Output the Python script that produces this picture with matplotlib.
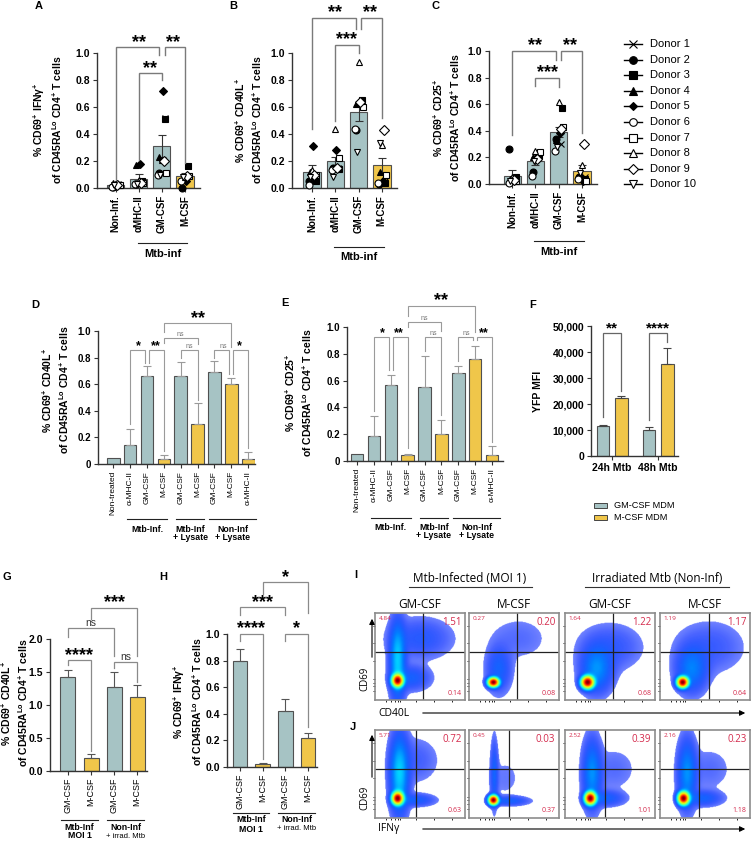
import numpy as np
import matplotlib
matplotlib.use('Agg')
import matplotlib.pyplot as plt
import matplotlib.transforms as mtransforms
from matplotlib.lines import Line2D
from matplotlib.patches import FancyArrowPatch, Rectangle

W, H = 752, 842

plt.rcParams['font.family'] = ['Liberation Sans', 'DejaVu Sans']
plt.rcParams['mathtext.fontset'] = 'custom'
plt.rcParams['mathtext.rm'] = 'Liberation Sans:bold'
plt.rcParams['mathtext.bf'] = 'Liberation Sans:bold'
plt.rcParams['mathtext.it'] = 'Liberation Sans:bold:italic'
plt.rcParams['mathtext.default'] = 'bf'

GM = '#a6c3c4'
MC = '#f0c64a'
RED = '#d42a4c'

# ---------------- data ----------------
abc_labels = ['Non-Inf.', 'αMHC-II', 'GM-CSF', 'M-CSF']
donors = ['Donor %d' % i for i in range(1, 11)]

# panel A: CD69+ IFNg+ (per group, donors 1..10)
A_means = [0.02, 0.07, 0.31, 0.09]
A_sem = [0.01, 0.035, 0.08, 0.02]
A_pts = [
    [0.03, 0.01, 0.02, 0.04, 0.03, 0.01, 0.02, 0.03, 0.02, 0.02],
    [0.05, 0.03, 0.05, 0.17, 0.18, 0.03, 0.04, 0.06, 0.04, 0.03],
    [0.52, 0.11, 0.51, 0.23, 0.72, 0.10, 0.11, 0.21, 0.20, 0.10],
    [0.16, 0.00, 0.16, 0.08, 0.05, 0.05, 0.09, 0.08, 0.09, 0.08],
]
# panel B: CD69+ CD40L+
B_means = [0.12, 0.20, 0.56, 0.17]
B_sem = [0.05, 0.03, 0.06, 0.05]
B_pts = [
    [0.10, 0.05, 0.05, 0.12, 0.31, 0.02, 0.10, 0.13, 0.10, 0.08],
    [0.15, 0.15, 0.14, 0.15, 0.28, 0.13, 0.22, 0.44, 0.15, 0.08],
    [0.64, 0.43, 0.65, 0.62, 0.64, 0.44, 0.60, 0.93, 0.64, 0.27],
    [0.05, 0.03, 0.04, 0.12, 0.05, 0.04, 0.10, 0.32, 0.43, 0.33],
]
# panel C: CD69+ CD25+
C_means = [0.06, 0.17, 0.39, 0.10]
C_sem = [0.045, 0.03, 0.04, 0.045]
C_pts = [
    [0.03, 0.26, 0.05, 0.04, 0.03, 0.01, 0.02, 0.05, 0.03, 0.02],
    [0.20, 0.09, 0.21, 0.20, 0.20, 0.06, 0.24, 0.25, 0.19, 0.17],
    [0.30, 0.34, 0.57, 0.33, 0.38, 0.25, 0.43, 0.62, 0.41, 0.28],
    [0.05, 0.05, 0.04, 0.06, 0.02, 0.04, 0.02, 0.14, 0.30, 0.08],
]

de_labels = ['Non-treated', 'α-MHC-II', 'GM-CSF', 'M-CSF', 'GM-CSF', 'M-CSF',
             'GM-CSF', 'M-CSF', 'α-MHC-II']
de_kind = ['gm', 'gm', 'gm', 'm', 'gm', 'm', 'gm', 'm', 'm']
D_means = [0.045, 0.14, 0.66, 0.035, 0.665, 0.30, 0.69, 0.60, 0.04]
D_err = [0.0, 0.12, 0.075, 0.03, 0.105, 0.155, 0.085, 0.05, 0.05]
E_means = [0.05, 0.19, 0.57, 0.045, 0.555, 0.20, 0.66, 0.76, 0.045]
E_err = [0.0, 0.145, 0.07, 0.01, 0.225, 0.105, 0.05, 0.10, 0.065]

F_groups = ['24h Mtb', '48h Mtb']
F_gm = [11500, 10000]
F_gm_err = [500, 1000]
F_m = [22500, 35300]
F_m_err = [500, 6200]

gh_labels = ['GM-CSF', 'M-CSF', 'GM-CSF', 'M-CSF']
gh_kind = ['gm', 'm', 'gm', 'm']
G_means = [1.43, 0.19, 1.28, 1.12]
G_err = [0.10, 0.07, 0.22, 0.18]
H_means = [0.80, 0.02, 0.42, 0.215]
H_err = [0.09, 0.01, 0.09, 0.04]

flow_cols = ['GM-CSF', 'M-CSF', 'GM-CSF', 'M-CSF']
I_tl = [4.84, 0.27, 1.64, 1.19]
I_tr = [1.51, 0.20, 1.22, 1.17]
I_br = [0.14, 0.08, 0.68, 0.64]
J_tl = [5.71, 0.45, 2.52, 2.16]
J_tr = [0.72, 0.03, 0.39, 0.23]
J_br = [0.63, 0.37, 1.01, 1.18]

# ---------------- styles ----------------
d_marker = ['x', 'o', 's', '^', 'D', 'o', 's', '^', 'D', 'v']
d_filled = [True] * 5 + [False] * 5
d_size = [5, 5, 5, 5, 4, 5, 5, 5, 5, 5]
d_dx = [0.12, -0.12, 0.15, -0.1, 0.05, -0.15, 0.18, 0.0, 0.08, -0.08]

fig = plt.figure(figsize=(W / 100, H / 100), dpi=100)


def fx(x):
    return x / W


def fy(y):
    return 1 - y / H


def make_ax(left, right, ytop, ybot, xlim, ylim):
    ax = fig.add_axes([fx(left), fy(ybot), (right - left) / W, (ybot - ytop) / H])
    ax.set_xlim(*xlim)
    ax.set_ylim(*ylim)
    ax.spines['top'].set_visible(False)
    ax.spines['right'].set_visible(False)
    for s in ['left', 'bottom']:
        ax.spines[s].set_linewidth(1.0)
        ax.spines[s].set_color('#333333')
    ax.tick_params(direction='out', length=3, width=0.8, color='#333333', pad=2)
    ax.patch.set_alpha(0)
    return ax


def bars(ax, means, errs, colors, width, both=False, ecolor='#333333'):
    x = np.arange(len(means))
    ax.bar(x, means, width, color=colors, edgecolor='#505050', linewidth=0.8, zorder=2)
    for xi, m, e in zip(x, means, errs):
        if e <= 0:
            continue
        lo = e if both else 0
        ax.errorbar(xi, m, yerr=[[lo], [e]], fmt='none', ecolor=ecolor,
                    elinewidth=0.8, capsize=3, capthick=0.8, zorder=3)


def points(ax, pts):
    for g, vals in enumerate(pts):
        for d, v in enumerate(vals):
            fc = 'black' if d_filled[d] else 'white'
            ax.plot(g + d_dx[d], v, marker=d_marker[d], ms=d_size[d], mfc=fc,
                    mec='black', mew=0.8, ls='none', zorder=4, clip_on=False)


def bracket(ax, spec, color, lw, fs, ns_fs=5.5, ns_color='#777777'):
    i, j, y, yi, yj, txt, di, dj = spec
    ax.plot([i + di, i + di, j + dj, j + dj], [yi, y, y, yj], color=color, lw=lw,
            clip_on=False, zorder=5, solid_joinstyle='miter')
    if txt == 'ns':
        ax.annotate(txt, ((i + j) / 2, y), xytext=(0, 1.5), textcoords='offset points',
                    ha='center', va='baseline', fontsize=ns_fs, color=ns_color,
                    annotation_clip=False)
    else:
        ax.annotate(txt, ((i + j) / 2, y), xytext=(0, 0.3), textcoords='offset points',
                    ha='center', va='baseline', fontsize=fs, fontweight='bold',
                    color='black', annotation_clip=False)


def group(ax, x0, x1, ypx, lines, typx, fs, weights=None, sizes=None, dy=9):
    tr = mtransforms.blended_transform_factory(ax.transData, fig.transFigure)
    ax.plot([x0, x1], [fy(ypx)] * 2, transform=tr, color='#222222', lw=0.8, clip_on=False)
    for k, t in enumerate(lines):
        w = weights[k] if weights else 'bold'
        s = sizes[k] if sizes else fs
        ax.text((x0 + x1) / 2, fy(typx + k * dy), t, transform=tr, ha='center',
                va='center', fontsize=s, fontweight=w)


def ylab(xpx, ypx, text, fs=7.5):
    fig.text(fx(xpx), fy(ypx), text, rotation=90, ha='center', va='center',
             fontsize=fs, fontweight='bold', multialignment='center', linespacing=1.25)


def letter(xpx, ypx, t):
    fig.text(fx(xpx), fy(ypx), t, ha='center', va='center', fontsize=8, fontweight='bold')


lab_ifn = '% CD69$^{+}$ IFNγ$^{+}$\nof CD45RA$^{Lo}$ CD4$^{+}$ T cells'
lab_40 = '% CD69$^{+}$ CD40L$^{+}$\nof CD45RA$^{Lo}$ CD4$^{+}$ T cells'
lab_25 = '% CD69$^{+}$ CD25$^{+}$\nof CD45RA$^{Lo}$ CD4$^{+}$ T cells'

# ---------------- A, B, C ----------------
abc_specs = [
    (97, 200, 53, 188, (-0.8, 3.65), A_means, A_sem, A_pts, lab_ifn, 48, 120,
     [(0, 2, 1.044, 0.06, 0.985, '**', 0, -0.12), (2, 3, 1.044, 0.985, 0.185, '**', 0.12, 0),
      (1, 2, 0.85, 0.21, 0.8, '**', 0, 0)], 'A', 39, 6, 243, 254),
    (292, 397, 53, 188, (-0.86, 3.65), B_means, B_sem, B_pts, lab_40, 249, 120,
     [(0, 2, 1.26, 0.44, 1.18, '**', 0, -0.12), (2, 3, 1.26, 1.18, 0.52, '**', 0.12, 0),
      (1, 2, 1.06, 0.5, 1.0, '***', 0, 0)], 'B', 233, 6, 247, 257),
    (489, 597, 51, 184, (-1.0, 3.65), C_means, C_sem, C_pts, lab_25, 447, 118,
     [(0, 2, 1.0, 0.37, 0.93, '**', 0, -0.12), (2, 3, 1.0, 0.93, 0.38, '**', 0.12, 0),
      (1, 2, 0.8, 0.74, 0.73, '***', 0, 0)], 'C', 435, 6, 241, 252),
]
for (l, r, yt, yb, xl, means, sem, pts, lab, lx, ly, brs, let, ltx, lty, gy, gty) in abc_specs:
    ax = make_ax(l, r, yt, yb, xl, (0, 1.0))
    bars(ax, means, sem, [GM, GM, GM, MC], 0.75, both=True)
    points(ax, pts)
    ax.set_yticks(np.arange(0, 1.01, 0.2))
    ax.set_yticklabels(['%.1f' % v for v in np.arange(0, 1.01, 0.2)], fontsize=7.5,
                       fontweight='bold')
    ax.set_xticks(range(4))
    ax.set_xticklabels(abc_labels, rotation=90, fontsize=7, fontweight='bold')
    for b in brs:
        bracket(ax, b, '#7a7a7a', 1.0, 13)
    group(ax, 0.95, 3.1, gy, ['Mtb-inf'], gty, 8)
    ylab(lx, ly, lab)
    letter(ltx, lty, let)

# donor legend
for k, name in enumerate(donors):
    yk = fy(44 + k * 15.6)
    fig.add_artist(Line2D([fx(624), fx(642)], [yk, yk], color='black', lw=1.0))
    fc = 'black' if d_filled[k] else 'white'
    fig.add_artist(Line2D([fx(633)], [yk], marker=d_marker[k], ms=d_size[k] + 0.5, mfc=fc,
                          mec='black', mew=0.8, ls='none'))
    fig.text(fx(650), yk, name, ha='left', va='center', fontsize=8)

# ---------------- D, E ----------------
de_specs = [
    (98, 255, 331, 464, (-0.9, 8.4), D_means, D_err, lab_40, 56, 390,
     [(1, 2, 0.86, 0.3, 0.76, '*', 0, -0.12), (2, 3, 0.86, 0.76, 0.1, '**', 0.12, 0),
      (3, 5, 0.95, 0.91, 0.9, 'ns', 0, 0), (4, 5, 0.86, 0.8, 0.48, 'ns', 0, 0),
      (6, 7, 0.86, 0.8, 0.68, 'ns', 0, -0.12), (7, 8, 0.86, 0.68, 0.12, '*', 0.12, 0),
      (3, 7, 1.06, 0.99, 0.88, '**', 0, 0)], 'D', 35, 305, 519, 530),
    (347, 503, 327, 461, (-0.6, 8.65), E_means, E_err, lab_25, 299, 393,
     [(1, 2, 0.925, 0.37, 0.68, '*', 0, -0.12), (2, 3, 0.925, 0.68, 0.1, '**', 0.12, 0),
      (3, 5, 1.04, 1.0, 0.97, 'ns', 0, 0), (4, 5, 0.925, 0.82, 0.34, 'ns', 0, 0),
      (6, 7, 0.925, 0.75, 0.9, 'ns', 0, -0.12), (7, 8, 0.925, 0.9, 0.14, '**', 0.12, 0),
      (3, 7, 1.16, 1.08, 0.96, '**', 0, 0)], 'E', 285, 303, 518, 528),
]
for (l, r, yt, yb, xl, means, err, lab, lx, ly, brs, let, ltx, lty, gy, gty) in de_specs:
    ax = make_ax(l, r, yt, yb, xl, (0, 1.0))
    bars(ax, means, err, [GM if k == 'gm' else MC for k in de_kind], 0.75,
         ecolor='#9a9a9a')
    ax.set_yticks(np.arange(0, 1.01, 0.2))
    ax.set_yticklabels(['0', '0.2', '0.4', '0.6', '0.8', '1.0'], fontsize=7,
                       fontweight='bold')
    ax.set_xticks(range(9))
    ax.set_xticklabels(de_labels, rotation=90, fontsize=6)
    for b in brs:
        fs = 13 if b[0] == 3 and b[1] == 7 else 9
        bracket(ax, b, '#9a9a9a', 0.8, fs, ns_fs=5)
    group(ax, 0.8, 3.2, gy, ['Mtb-Inf.'], gty, 6.3)
    group(ax, 3.7, 5.4, gy, ['Mtb-Inf', '+ Lysate'], gty - 1, 6.3, dy=9)
    group(ax, 5.7, 8.45, gy, ['Non-Inf', '+ Lysate'], gty - 1, 6.3, dy=9)
    ylab(lx, ly, lab)
    letter(ltx, lty, let)

# ---------------- F ----------------
ax = make_ax(591, 678, 326, 456, (-0.46, 1.43), (0, 50000))
xf = np.arange(len(F_groups))
ax.bar(xf - 0.2, F_gm, 0.27, color=GM, edgecolor='#505050', lw=0.8, zorder=2)
ax.bar(xf + 0.2, F_m, 0.27, color=MC, edgecolor='#505050', lw=0.8, zorder=2)
ax.errorbar(xf - 0.2, F_gm, yerr=[np.zeros(2), F_gm_err], fmt='none', ecolor='#444444',
            elinewidth=0.8, capsize=3, capthick=0.8, zorder=3)
ax.errorbar(xf + 0.2, F_m, yerr=[np.zeros(2), F_m_err], fmt='none', ecolor='#444444',
            elinewidth=0.8, capsize=3, capthick=0.8, zorder=3)
ax.set_yticks(np.arange(0, 50001, 10000))
ax.set_yticklabels(['0', '10,000', '20,000', '30,000', '40,000', '50,000'], fontsize=7.5,
                   fontweight='bold')
ax.set_xticks(xf)
ax.set_xticklabels(F_groups, fontsize=7.5, fontweight='bold')
for b in [(-0.2, 0.2, 47300, 15000, 25000, '**', 0, 0),
          (0.8, 1.2, 47300, 14000, 44000, '****', 0, 0)]:
    bracket(ax, b, '#666666', 0.9, 11)
ylab(538, 391, 'YFP MFI', fs=7.5)
letter(533, 305, 'F')
for k, (c, t) in enumerate([(GM, 'GM-CSF MDM'), (MC, 'M-CSF MDM')]):
    yk = 506 + k * 11
    fig.add_artist(Rectangle((fx(594), fy(yk + 2.5)), 13 / W, 5 / H, facecolor=c,
                             edgecolor='#444444', lw=0.7, transform=fig.transFigure))
    fig.text(fx(614), fy(yk), t, ha='left', va='center', fontsize=6.6)

# ---------------- G, H ----------------
gh_specs = [
    (50, 147, 639, 771, (-0.78, 3.43), (0, 2.0), G_means, G_err, lab_40, 15, 703,
     [(0, 1, 1.68, 1.6, 0.3, '****', 0, 0), (2, 3, 1.65, 1.56, 1.35, 'ns', 0, 0),
      (0, 2, 2.17, 2.03, 1.75, 'ns', 0, 0), (1, 3, 2.47, 2.3, 1.75, '***', 0, 0)],
     'G', 7, 577, np.arange(0, 2.01, 0.5), 820),
    (227, 317, 634, 767, (-0.57, 3.4), (0, 1.0), H_means, H_err, lab_ifn, 188, 702,
     [(0, 1, 1.0, 0.95, 0.06, '****', 0, 0), (2, 3, 1.0, 0.95, 0.3, '*', 0, 0),
      (0, 2, 1.2, 1.14, 1.14, '***', 0, 0), (1, 3, 1.39, 1.3, 1.16, '*', 0, 0)],
     'H', 163, 577, np.arange(0, 1.01, 0.2), 813),
]
for (l, r, yt, yb, xl, yl, means, err, lab, lx, ly, brs, let, ltx, lty, yt_vals, gy) in gh_specs:
    ax = make_ax(l, r, yt, yb, xl, yl)
    bars(ax, means, err, [GM if k == 'gm' else MC for k in gh_kind], 0.65,
         ecolor='#555555')
    ax.set_yticks(yt_vals)
    ax.set_yticklabels(['%.1f' % v for v in yt_vals], fontsize=7.5, fontweight='bold')
    ax.set_xticks(range(4))
    ax.set_xticklabels(gh_labels, rotation=90, fontsize=6.4)
    for b in brs:
        bracket(ax, b, '#8a8a8a', 0.9, 13, ns_fs=7.5, ns_color='#333333')
    group(ax, -0.3, 1.3, gy, ['Mtb-Inf', 'MOI 1'], gy + 7, 6.3)
    group(ax, 1.7, 3.3, gy, ['Non-Inf', '+ irrad. Mtb'], gy + 7, 6.3,
          weights=['bold', 'normal'], sizes=[6.3, 5.5])
    ylab(lx, ly, lab)
    letter(ltx, lty, let)

# ---------------- I, J flow plots ----------------
flow_font = ['Open Sans', 'DejaVu Sans']
# density outline of each plot: (centre x, centre y, spread x, spread y, weight)
I_blobs = [
    [(0.25, 0.22, 0.035, 0.04, 1.0), (0.25, 0.45, 0.05, 0.25, 0.1),
     (0.5, 0.7, 0.2, 0.13, 0.02), (0.4, 0.25, 0.12, 0.08, 0.03)],
    [(0.27, 0.2, 0.035, 0.03, 1.0), (0.33, 0.35, 0.08, 0.15, 0.03),
     (0.55, 0.7, 0.2, 0.15, 0.006)],
    [(0.25, 0.2, 0.04, 0.04, 1.0), (0.35, 0.35, 0.1, 0.15, 0.06),
     (0.5, 0.6, 0.2, 0.15, 0.015)],
    [(0.25, 0.2, 0.035, 0.035, 1.0), (0.35, 0.35, 0.1, 0.15, 0.05),
     (0.55, 0.6, 0.22, 0.17, 0.012)],
]
J_blobs = [
    [(0.25, 0.22, 0.035, 0.04, 1.0), (0.27, 0.5, 0.06, 0.25, 0.1),
     (0.45, 0.2, 0.12, 0.04, 0.03), (0.45, 0.65, 0.15, 0.15, 0.01)],
    [(0.27, 0.2, 0.03, 0.03, 1.0), (0.28, 0.5, 0.025, 0.22, 0.03),
     (0.45, 0.19, 0.12, 0.03, 0.03), (0.4, 0.45, 0.12, 0.15, 0.004)],
    [(0.28, 0.22, 0.035, 0.04, 1.0), (0.3, 0.5, 0.06, 0.22, 0.06),
     (0.45, 0.22, 0.12, 0.05, 0.03), (0.55, 0.55, 0.15, 0.15, 0.006)],
    [(0.26, 0.22, 0.035, 0.04, 1.0), (0.3, 0.5, 0.06, 0.22, 0.06),
     (0.48, 0.22, 0.12, 0.05, 0.03), (0.55, 0.55, 0.15, 0.15, 0.006)],
]
col_left = [375, 469, 565, 660]
cmap = plt.get_cmap('jet').copy()
cmap.set_bad('white')
gx = np.linspace(0, 1, 160)
GX, GY = np.meshgrid(gx, gx)


def flow(left, top, bottom, blobs, vq, hq, tl, tr, br):
    ax = fig.add_axes([fx(left), fy(bottom), 90 / W, (bottom - top) / H])
    z = np.zeros_like(GX)
    for cx, cy, sx, sy, w in blobs:
        z += w * np.exp(-0.5 * ((GX - cx) / sx) ** 2 - 0.5 * ((GY - cy) / sy) ** 2)
    lz = np.log10(z / z.max() + 1e-12)
    t = np.clip((lz + 2.6) / 2.6, 0, 1)
    v = np.ma.masked_where(lz < -2.6, 0.16 + 0.84 * t ** 3.2)
    alpha = np.where(lz < -2.6, 0.0, np.clip(0.55 + 0.9 * t, 0, 1))
    ax.imshow(v, origin='lower', extent=(0, 1, 0, 1), cmap=cmap, vmin=0, vmax=1,
              aspect='auto', interpolation='bilinear', alpha=alpha)
    ax.axvline(vq, color='#222222', lw=0.9)
    ax.axhline(hq, color='#222222', lw=0.9)
    ax.set_xlim(0, 1)
    ax.set_ylim(0, 1)
    for s in ax.spines.values():
        s.set_color('#8c8c8c')
        s.set_linewidth(1.2)
    ax.set_xticks([0.12, 0.18, 0.22, 0.25, 0.28, 0.45, 0.65, 0.85])
    ax.set_yticks([0.1, 0.16, 0.2, 0.24, 0.45, 0.65, 0.85])
    ax.tick_params(length=1.5, width=0.6, labelbottom=False, labelleft=False, direction='out')
    ax.text(0.04, 0.97, '%.2f' % tl, transform=ax.transAxes, ha='left', va='top',
            fontsize=4.6, color=RED, family=flow_font)
    ax.text(0.96, 0.95, '%.2f' % tr, transform=ax.transAxes, ha='right', va='top',
            fontsize=7, color=RED, family=flow_font)
    ax.text(0.96, 0.04, '%.2f' % br, transform=ax.transAxes, ha='right', va='bottom',
            fontsize=5, color=RED, family=flow_font)
    return ax


for k in range(4):
    flow(col_left[k], 613, 700, I_blobs[k], [0.53, 0.53, 0.53, 0.54][k], 0.55,
         I_tl[k], I_tr[k], I_br[k])
    flow(col_left[k], 730, 818, J_blobs[k], [0.46, 0.44, 0.44, 0.435][k], 0.56,
         J_tl[k], J_tr[k], J_br[k])
    fig.text(fx(col_left[k] + 45), fy(605), flow_cols[k], ha='center', va='center',
             fontsize=8.5, family=flow_font)

for t, cx, x0, x1 in [('Mtb-Infected (MOI 1)', 470, 409, 532),
                      ('Irradiated Mtb (Non-Inf)', 657, 585, 729)]:
    fig.text(fx(cx), fy(578), t, ha='center', va='center', fontsize=8.5, family=flow_font)
    fig.add_artist(Line2D([fx(x0), fx(x1)], [fy(587), fy(587)], color='#333333', lw=0.8))

letter(356, 575, 'I')
letter(353, 727, 'J')


def arrow(p0, p1):
    fig.add_artist(FancyArrowPatch((fx(p0[0]), fy(p0[1])), (fx(p1[0]), fy(p1[1])),
                                   transform=fig.transFigure, arrowstyle='-|>',
                                   mutation_scale=8, lw=0.8, color='black'))


arrow((372, 660), (372, 616))
arrow((420, 713), (748, 713))
arrow((372, 780), (372, 732))
arrow((420, 829), (748, 829))
fig.text(fx(365), fy(679), 'CD69', rotation=90, ha='center', va='center', fontsize=7,
         family=flow_font)
fig.text(fx(365), fy(798), 'CD69', rotation=90, ha='center', va='center', fontsize=7,
         family=flow_font)
fig.text(fx(378), fy(713), 'CD40L', ha='left', va='center', fontsize=7.5, family=flow_font)
fig.text(fx(378), fy(829), 'IFNγ', ha='left', va='center', fontsize=7.5, family=flow_font)

fig.savefig('out.png', dpi=100, facecolor='white')
